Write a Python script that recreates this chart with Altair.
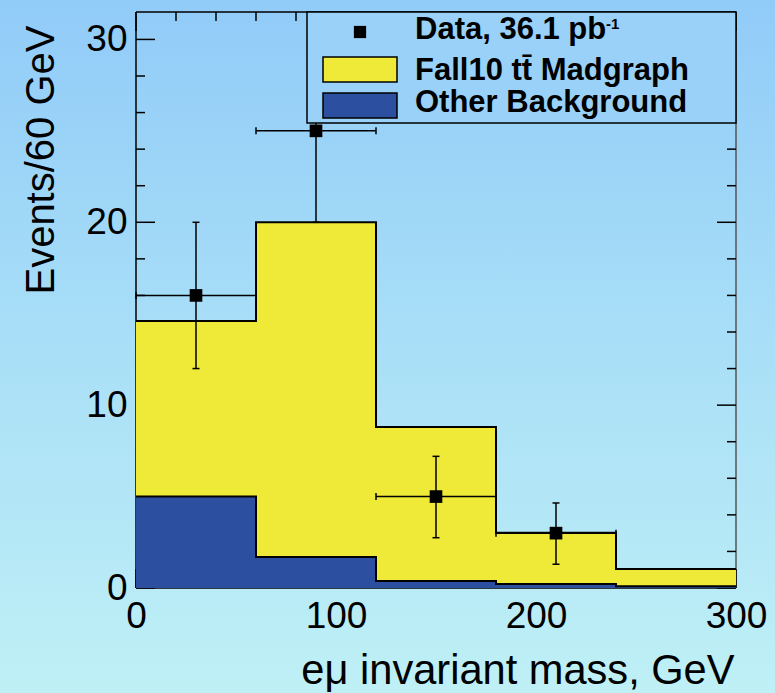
import altair as alt
import pandas as pd

# ---------------- data ----------------
edges = [0, 60, 120, 180, 240, 300]
other_bkg = [5.0, 1.7, 0.38, 0.22, 0.1]
ttbar = [9.6, 18.3, 8.42, 2.8, 0.94]

data_x = [30, 90, 150, 210]
data_n = [16, 25, 5, 3]
data_lo = [12, 20, 2.75, 1.3]
data_hi = [20, 30.1, 7.2, 4.65]
bin_half = 30

x_major = [0, 100, 200, 300]
x_minor = [20, 40, 60, 80, 120, 140, 160, 180, 220, 240, 260, 280]
y_major = [0, 10, 20, 30]
y_minor = [2, 4, 6, 8, 12, 14, 16, 18, 22, 24, 26, 28]

legend_labels = ["Data, 36.1 pb", "-1", "Fall10 tt\u0304 Madgraph", "Other Background"]
x_title = "e\u03bc invariant mass, GeV"
y_title = "Events/60 GeV"

# ---------------- derived tables ----------------
W, H = 600, 576
PL, PT, PR, PB = 136, 12, 39, 105
FONT = "Liberation Sans"
YELLOW = "#efe937"
BLUE = "#2d4f9f"

totals = [o + t for o, t in zip(other_bkg, ttbar)]
hist = pd.DataFrame({
    "lo": edges[:-1], "hi": edges[1:],
    "base": [0] * len(other_bkg),
    "other": other_bkg, "total": totals,
})
step_total = pd.DataFrame({"edge": edges, "y": totals + [totals[-1]]})
step_other = pd.DataFrame({"edge": edges, "y": other_bkg + [other_bkg[-1]]})
pts = pd.DataFrame({
    "x": data_x, "n": data_n, "lo": data_lo, "hi": data_hi,
    "xl": [c - bin_half for c in data_x], "xh": [c + bin_half for c in data_x],
})
one = pd.DataFrame({"k": [0]})

xscale = alt.Scale(domain=[0, 300], nice=False, zero=False)
yscale = alt.Scale(domain=[0, 31.5], nice=False, zero=False)

xaxis = alt.Axis(values=x_major, ticks=False, tickSize=0, domain=False, grid=False, zindex=1,
                 labelFontSize=37, labelPadding=10, labelFlush=False, labelOverlap=False,
                 labelColor="black", labelFont=FONT,
                 title=x_title, titleFontSize=41.6, titleFontWeight="normal", titleFont=FONT,
                 titleColor="black", titleX=W - 2, titleY=95, titleAlign="right",
                 titleBaseline="alphabetic")
yaxis = alt.Axis(values=y_major, ticks=False, tickSize=0, domain=False, grid=False, zindex=1,
                 labelFontSize=37, labelPadding=9, labelOverlap=False,
                 labelColor="black", labelFont=FONT,
                 title=y_title, titleFontSize=40, titleFontWeight="normal", titleFont=FONT,
                 titleColor="black", titleAngle=-90, titleX=-83, titleY=13,
                 titleAlign="right", titleBaseline="alphabetic")


def X(f):
    return alt.X(f"{f}:Q", scale=xscale, axis=xaxis)


def Y(f):
    return alt.Y(f"{f}:Q", scale=yscale, axis=yaxis)


layers = []

# background gradient covering the whole page
grad = alt.LinearGradient(gradient="linear", x1=0, x2=0, y1=0, y2=1,
                          stops=[alt.GradientStop(color="#91cbf8", offset=0),
                                 alt.GradientStop(color="#a9dff7", offset=0.5),
                                 alt.GradientStop(color="#bff0f6", offset=1)])
layers.append(alt.Chart(one).mark_rect(fill=grad).encode(
    x=alt.value(-PL), x2=alt.value(W + PR), y=alt.value(-PT), y2=alt.value(H + PB)))

# frame
layers.append(alt.Chart(one).mark_rule(color="black", strokeWidth=1.5).encode(
    x=alt.value(0), x2=alt.value(W), y=alt.value(0)))
layers.append(alt.Chart(one).mark_rule(color="black", strokeWidth=1.5).encode(
    x=alt.value(0), y=alt.value(0), y2=alt.value(H)))
layers.append(alt.Chart(one).mark_rule(color="#555555", strokeWidth=1.5).encode(
    x=alt.value(W), y=alt.value(0), y2=alt.value(H)))
layers.append(alt.Chart(one).mark_rule(color="black", strokeWidth=1.5).encode(
    x=alt.value(0), x2=alt.value(W), y=alt.value(H)))

# ticks (inward)
ymaj = pd.DataFrame({"v": y_major})
ymin = pd.DataFrame({"v": y_minor})
xmaj = pd.DataFrame({"v": x_major})
xmin = pd.DataFrame({"v": x_minor})
tick = dict(color="black", strokeWidth=1.5)
layers += [
    alt.Chart(ymaj).mark_rule(**tick).encode(y=Y("v"), x=alt.value(0), x2=alt.value(19)),
    alt.Chart(ymin).mark_rule(**tick).encode(y=Y("v"), x=alt.value(0), x2=alt.value(9)),
    alt.Chart(ymaj).mark_rule(**tick).encode(y=Y("v"), x=alt.value(W), x2=alt.value(W - 19)),
    alt.Chart(ymin).mark_rule(**tick).encode(y=Y("v"), x=alt.value(W), x2=alt.value(W - 9)),
    alt.Chart(xmaj).mark_rule(**tick).encode(x=X("v"), y=alt.value(0), y2=alt.value(19)),
    alt.Chart(xmin).mark_rule(**tick).encode(x=X("v"), y=alt.value(0), y2=alt.value(9)),
    alt.Chart(xmaj).mark_rule(**tick).encode(x=X("v"), y=alt.value(H), y2=alt.value(H - 19)),
    alt.Chart(xmin).mark_rule(**tick).encode(x=X("v"), y=alt.value(H), y2=alt.value(H - 9)),
]

# stacked histogram fills
layers.append(alt.Chart(hist).mark_rect(fill=BLUE).encode(
    x=X("lo"), x2="hi", y=Y("base"), y2="other"))
layers.append(alt.Chart(hist).mark_rect(fill=YELLOW).encode(
    x=X("lo"), x2="hi", y=Y("other"), y2="total"))

# histogram outlines
layers.append(alt.Chart(step_other).mark_line(interpolate="step-after", color="black",
                                              strokeWidth=2).encode(x=X("edge"), y=Y("y")))
layers.append(alt.Chart(step_total).mark_line(interpolate="step-after", color="black",
                                              strokeWidth=2).encode(x=X("edge"), y=Y("y")))

# data with error bars
eb = dict(color="black", strokeWidth=1.5)
layers += [
    alt.Chart(pts).mark_rule(**eb).encode(x=X("x"), y=Y("lo"), y2="hi"),
    alt.Chart(pts).mark_rule(**eb).encode(x=X("xl"), x2="xh", y=Y("n")),
    alt.Chart(pts).mark_rule(xOffset=-3.5, x2Offset=3.5, **eb).encode(x=X("x"), x2="x", y=Y("lo")),
    alt.Chart(pts).mark_rule(xOffset=-3.5, x2Offset=3.5, **eb).encode(x=X("x"), x2="x", y=Y("hi")),
    alt.Chart(pts).mark_rule(yOffset=-3.5, y2Offset=3.5, **eb).encode(x=X("xl"), y=Y("n"), y2="n"),
    alt.Chart(pts).mark_rule(yOffset=-3.5, y2Offset=3.5, **eb).encode(x=X("xh"), y=Y("n"), y2="n"),
    alt.Chart(pts).mark_square(size=160, color="black", opacity=1).encode(x=X("x"), y=Y("n")),
]

# legend
LX = 307 - PL
layers += [
    alt.Chart(one).mark_rect(fill="#99d1f8", stroke="black", strokeWidth=1.5).encode(
        x=alt.value(LX), x2=alt.value(W), y=alt.value(0), y2=alt.value(111)),
    alt.Chart(one).mark_square(size=150, color="black", opacity=1).encode(
        x=alt.value(224), y=alt.value(20)),
    alt.Chart(one).mark_rect(fill=YELLOW, stroke="black", strokeWidth=1.5).encode(
        x=alt.value(187), x2=alt.value(261), y=alt.value(45), y2=alt.value(70)),
    alt.Chart(one).mark_rect(fill=BLUE, stroke="black", strokeWidth=1.5).encode(
        x=alt.value(187), x2=alt.value(261), y=alt.value(81), y2=alt.value(106)),
]
lt = dict(align="left", baseline="alphabetic", font=FONT, fontWeight="bold", color="black")
layers += [
    alt.Chart(one).mark_text(fontSize=31, text=legend_labels[0], **lt).encode(
        x=alt.value(279), y=alt.value(27)),
    alt.Chart(one).mark_text(fontSize=15, text=legend_labels[1], **lt).encode(
        x=alt.value(470), y=alt.value(17)),
    alt.Chart(one).mark_text(fontSize=31, text=legend_labels[2], **lt).encode(
        x=alt.value(279), y=alt.value(68)),
    alt.Chart(one).mark_text(fontSize=31, text=legend_labels[3], **lt).encode(
        x=alt.value(279), y=alt.value(100)),
]

chart = alt.layer(*layers).properties(
    width=W, height=H,
    padding={"left": PL, "top": PT, "right": PR, "bottom": PB},
    autosize=alt.AutoSizeParams(type="none"),
    background="#a9dff7",
).configure_view(stroke=None).configure(font=FONT)

chart.save("out.html", embed_options={"renderer": "svg", "actions": False})
